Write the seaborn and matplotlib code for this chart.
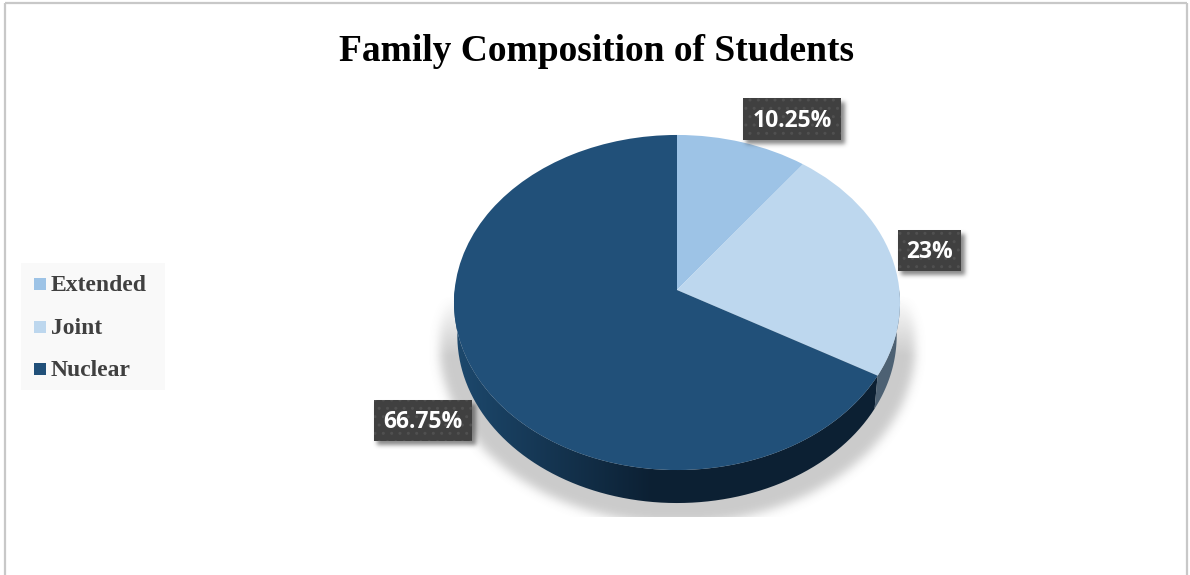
import numpy as np
import matplotlib
matplotlib.use("Agg")
import matplotlib.pyplot as plt
import seaborn as sns
from matplotlib.patches import Rectangle, PathPatch
from matplotlib.path import Path
from matplotlib.transforms import Transform

title = "Family Composition of Students"
categories = ["Extended", "Joint", "Nuclear"]
shares = [10.25, 23, 66.75]
value_labels = ["10.25%", "23%", "66.75%"]
slice_colors = ["#9dc3e6", "#bdd7ee", "#215079"]

W, H = 1190, 575
APEX = (677.0, 290.0)
DEPTH = 33.0
LOWER_SCALE = 0.985


class TiltedDisk(Transform):
    """Projects the flat unit pie onto a tilted disk, in pixel coordinates."""
    input_dims = output_dims = 2
    has_inverse = False
    k = 0.0746

    def transform_non_affine(self, values):
        v = np.asarray(values, float)
        w = 1 + self.k * v[:, 1]
        return np.column_stack([APEX[0] + 222.4 * v[:, 0] / w,
                                APEX[1] - 166.6 * v[:, 1] / w])


def gaussian_blur(img, sigma):
    r = int(3 * sigma)
    kernel = np.exp(-0.5 * (np.arange(-r, r + 1) / sigma) ** 2)
    kernel /= kernel.sum()
    out = np.apply_along_axis(lambda c: np.convolve(c, kernel, "same"), 0, img)
    return np.apply_along_axis(lambda c: np.convolve(c, kernel, "same"), 1, out)


def rgba_layer(rgb, alpha):
    layer = np.zeros(alpha.shape + (4,))
    layer[..., :3] = rgb
    layer[..., 3] = alpha
    return layer


sns.set_theme(style="white")
fig = plt.figure(figsize=(W / 100, H / 100), dpi=100, facecolor="white")
ax = fig.add_axes([0, 0, 1, 1])
ax.set_axis_off()

yy, xx = np.mgrid[0:H, 0:W]

# soft cast shadow under the disk, cut off at its lower bound
disk = (((xx - 677) / 238.0) ** 2 + ((yy - 345) / 178.0) ** 2 <= 1).astype(float)
soft = gaussian_blur(disk, 5) * np.clip((yy - 295) / 60.0, 0, 1) * (yy <= 516)
ax.imshow(rgba_layer(np.array([0.45, 0.45, 0.45]), 0.37 * soft),
          extent=(0, W, H, 0), aspect="auto", interpolation="bilinear", zorder=1)

# side wall of the disk, split where the slice boundary reaches the rim
flat = TiltedDisk()
seam = 360 + 90 - np.cumsum(shares)[1] * 3.6


def wall_polygon(a0, a1):
    t = np.radians(np.linspace(a0, a1, 240))
    rim = flat.transform(np.column_stack([np.cos(t), np.sin(t)]))
    low = rim + [0, DEPTH]
    low[:, 0] = APEX[0] + (low[:, 0] - APEX[0]) * LOWER_SCALE
    return Path(np.vstack([rim, low[::-1], rim[:1]]))


ramp = np.clip((xx - 462) / 190.0, 0, 1)[..., None]
dark0, dark1 = np.array([0x1c, 0x47, 0x6b]) / 255, np.array([0x0c, 0x20, 0x33]) / 255
nuclear_wall = np.zeros((H, W, 4))
nuclear_wall[..., :3] = dark0 * (1 - ramp) + dark1 * ramp
nuclear_wall[..., 3] = 1
img = ax.imshow(nuclear_wall, extent=(0, W, H, 0), aspect="auto", zorder=2)
img.set_clip_path(PathPatch(wall_polygon(180, seam), transform=ax.transData))

ax.add_patch(PathPatch(wall_polygon(seam, 360), facecolor="#4d6173", edgecolor="none", zorder=2))

# top face
wedges, _ = ax.pie(shares, colors=slice_colors, startangle=90, counterclock=False,
                   frame=True, wedgeprops=dict(linewidth=0, zorder=3))
for wedge in wedges:
    wedge.set_transform(TiltedDisk() + ax.transData)
    wedge.set_zorder(3)

ax.set_xlim(0, W)
ax.set_ylim(H, 0)
ax.set_aspect("auto")
ax.set_axis_off()

# chart frame
for x0, y0, x1, y1 in [(5, 3, 1187, 3), (5, 3, 5, H), (1187, 3, 1187, H)]:
    ax.plot([x0, x1], [y0, y1], color="#c8c8c8", lw=1.6, zorder=1, solid_capstyle="butt")

ax.text(596.5, 51.5, title, family="Liberation Serif", weight="bold", fontsize=27,
        color="black", ha="center", va="center", zorder=6)

# value labels on dark tiles with a soft drop shadow
tiles = [(743, 98, 98, 42), (898, 230, 63, 41), (374, 400, 98, 41)]
tile_shadow = np.zeros((H, W))
for x, y, w, h in tiles:
    tile_shadow[y + 4:y + h + 4, x + 3:x + w + 4] = 1
ax.imshow(rgba_layer(np.array([0.25, 0.25, 0.25]), 0.62 * gaussian_blur(tile_shadow, 2.2)),
          extent=(0, W, H, 0), aspect="auto", zorder=4)
ax.set_xlim(0, W)
ax.set_ylim(H, 0)
for (x, y, w, h), label in zip(tiles, value_labels):
    ax.add_patch(Rectangle((x, y), w, h, facecolor="#404040", edgecolor="#505050",
                           hatch="..", linewidth=0, zorder=5))
    ax.text(x + w / 2, y + h / 2 + 2, label, family="Open Sans", weight="bold", fontsize=16.5,
            color="white", ha="center", va="center", zorder=6)

# legend panel
ax.add_patch(Rectangle((21, 263), 144, 127, facecolor="#f9f9f9", edgecolor="none", zorder=2))
for name, color, yc in zip(categories, slice_colors, [284, 327, 369]):
    ax.add_patch(Rectangle((34, yc - 6), 12, 12, facecolor=color, edgecolor="none", zorder=3))
    ax.text(51, yc + 1.5, name, family="Liberation Serif", weight="bold", fontsize=17,
            color="#404040", ha="left", va="center", zorder=3)

fig.savefig("out.png", dpi=100)
